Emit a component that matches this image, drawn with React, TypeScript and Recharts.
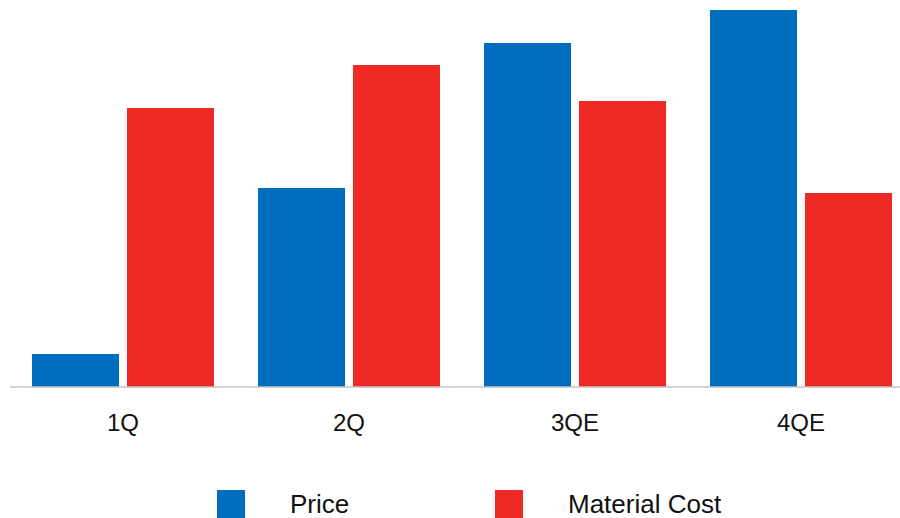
import { BarChart, Bar, XAxis, YAxis, Legend } from "recharts"

// quarters on the x axis
const quarters = ["1Q", "2Q", "3QE", "4QE"]
// bar heights (relative units)
const priceValues = [33, 199, 344, 377]
const materialCostValues = [279, 322, 286, 194]

const seriesNames = { price: "Price", material: "Material Cost" }
const seriesOrder = ["price", "material"]
const BLUE = "#016DBE"
const RED = "#EE2926"
const FONT = "'Liberation Sans', Arial, sans-serif"

const chartData = quarters.map((q, i) => ({
  quarter: q,
  price: priceValues[i],
  material: materialCostValues[i],
}))

function CustomLegend({ payload }: any) {
  const items = [...(payload || [])].sort(
    (a: any, b: any) => seriesOrder.indexOf(a.dataKey) - seriesOrder.indexOf(b.dataKey)
  )
  return (
    <div style={{ display: "flex", paddingLeft: 217, fontFamily: FONT, fontSize: 26, color: "#111" }}>
      {items.map((entry: any) => (
        <div key={entry.value} style={{ display: "flex", alignItems: "center", width: 278 }}>
          <div style={{ width: 28, height: 28, background: entry.color, marginRight: 45 }} />
          <span style={{ lineHeight: "28px" }}>{entry.value}</span>
        </div>
      ))}
    </div>
  )
}

export default function App() {
  return (
    <div style={{ position: "absolute", left: 0, top: 0, width: 900, height: 518, overflow: "hidden", background: "#fff" }}>
      <BarChart
        width={930}
        height={518}
        data={chartData}
        margin={{ top: 10, right: 16, left: 10, bottom: 101 }}
        barCategoryGap={22}
        barGap={8}
      >
        <XAxis
          dataKey="quarter"
          height={30}
          tickLine={false}
          axisLine={{ stroke: "#C4C4C4", strokeWidth: 1.5 }}
          tickMargin={21}
          tick={{ fontSize: 24, fill: "#111", fontFamily: FONT }}
        />
        <YAxis hide width={0} domain={[0, 377]} />
        <Legend
          layout="horizontal"
          verticalAlign="middle"
          align="center"
          content={<CustomLegend />}
          wrapperStyle={{ top: 490, left: 0, width: 900 }}
        />
        <Bar dataKey="price" name={seriesNames.price} fill={BLUE} isAnimationActive={false} />
        <Bar dataKey="material" name={seriesNames.material} fill={RED} isAnimationActive={false} />
      </BarChart>
    </div>
  )
}
